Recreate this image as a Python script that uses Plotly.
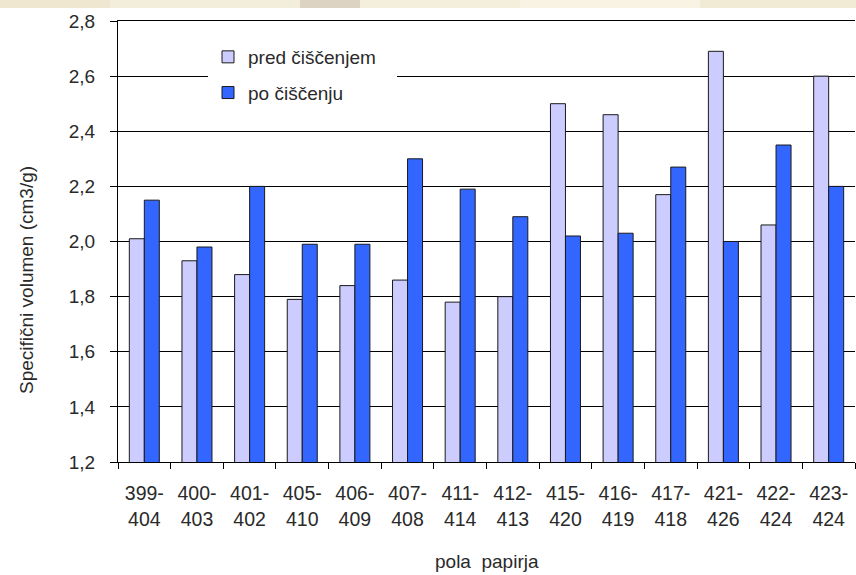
import plotly.graph_objects as go

categories = ["399-<br>404", "400-<br>403", "401-<br>402", "405-<br>410", "406-<br>409",
              "407-<br>408", "411-<br>414", "412-<br>413", "415-<br>420", "416-<br>419",
              "417-<br>418", "421-<br>426", "422-<br>424", "423-<br>424"]
pred_ciscenjem = [2.01, 1.93, 1.88, 1.79, 1.84, 1.86, 1.78, 1.80, 2.50, 2.46, 2.17, 2.69, 2.06, 2.60]
po_ciscenju = [2.15, 1.98, 2.20, 1.99, 1.99, 2.30, 2.19, 2.09, 2.02, 2.03, 2.27, 2.00, 2.35, 2.20]
y_ticks = [1.2, 1.4, 1.6, 1.8, 2.0, 2.2, 2.4, 2.6, 2.8]

W, H = 856, 575
L, R, T, B = 118, 1, 21, 113
pw, ph = W - L - R, H - T - B

def px_x(p):
    return (p - L) / pw

def px_y(p):
    return (H - B - p) / ph

font = "Liberation Sans, Arial, sans-serif"
txt = "#2a2a2a"
fs = 19

fig = go.Figure()
fig.add_trace(go.Bar(x=categories, y=pred_ciscenjem, name="pred čiščenjem",
                     marker=dict(color="#CCCCFF", line=dict(color="#1a1a1a", width=1)),
                     legendgroup="a"))
fig.add_trace(go.Bar(x=categories, y=po_ciscenju, name="po čiščenju",
                     marker=dict(color="#3366FF", line=dict(color="#1a1a1a", width=1)),
                     legendgroup="b"))

shapes = [
    dict(type="rect", xref="paper", yref="y", x0=px_x(213), x1=px_x(397), y0=2.585, y1=2.615,
         fillcolor="white", line=dict(width=0), layer="above"),
]
strip = [(0, 110, "#EFE7CF"), (110, 300, "#F3EDDC"), (300, 360, "#DDD3C3"), (360, 520, "#F4EEDC"),
         (520, 700, "#F8F3E2"), (700, 856, "#F1EBD6")]
for a, b, c in strip:
    shapes.append(dict(type="rect", xref="paper", yref="paper", x0=px_x(a), x1=px_x(b),
                       y0=px_y(8), y1=px_y(0), fillcolor=c, line=dict(width=0), layer="above"))

annotations = [
    dict(text="Specifični volumen (cm3/g)", xref="paper", yref="paper",
         x=px_x(26), y=px_y(280), xanchor="center", yanchor="middle", textangle=-90,
         showarrow=False, font=dict(size=19, color=txt)),
    dict(text="pola  papirja", xref="paper", yref="paper",
         x=px_x(487), y=px_y(561), xanchor="center", yanchor="middle",
         showarrow=False, font=dict(size=19, color=txt)),
]

fig.update_layout(
    width=W, height=H,
    margin=dict(l=L, r=R, t=T, b=B),
    paper_bgcolor="white", plot_bgcolor="white",
    separators=", ",
    barmode="group", bargap=0.43, bargroupgap=0,
    font=dict(family=font, size=fs, color=txt),
    legend=dict(x=px_x(208), y=px_y(38), xanchor="left", yanchor="top",
                bgcolor="white", borderwidth=0, font=dict(size=19, color=txt),
                traceorder="grouped", tracegroupgap=8),
    shapes=shapes,
    annotations=annotations,
    xaxis=dict(showline=True, linecolor="black", linewidth=1, mirror=True,
               ticks="outside", tickson="boundaries", ticklen=6, tickcolor="black",
               ticklabelstandoff=14,
               tickfont=dict(size=19.5, color=txt), showgrid=False),
    yaxis=dict(range=[1.2, 2.8], tickvals=y_ticks, tickformat=".1f",
               showline=True, linecolor="black", linewidth=1,
               ticks="outside", ticklen=7, tickcolor="black",
               ticklabelstandoff=11,
               showgrid=True, gridcolor="black", gridwidth=1, zeroline=False,
               tickfont=dict(size=19, color=txt)),
)

fig.write_html("out.html", post_script="document.body.style.margin='0';",
               config={"displayModeBar": False})
